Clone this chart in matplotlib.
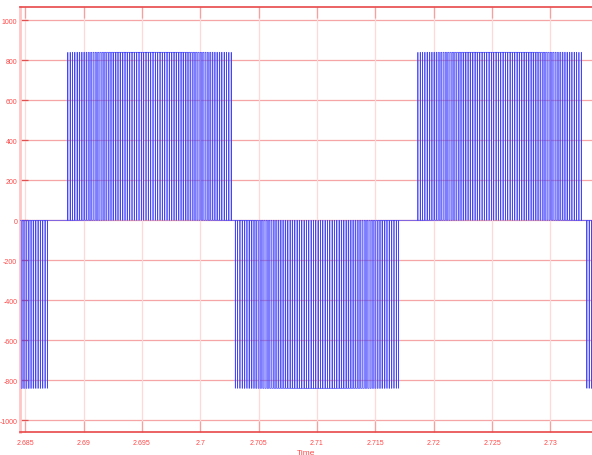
import matplotlib
matplotlib.use("Agg")
import matplotlib.pyplot as plt

# one carrier period between pulses (s) and pulse amplitude (V)
CARRIER_PERIOD = 0.0002
PULSE_AMPLITUDE = 840

# duty of each pulse across the first half of a half cycle,
# the second half mirrors it
PULSE_DUTY_RISING = [
    0.02, 0.06, 0.10, 0.14, 0.18, 0.22, 0.26, 0.29, 0.33, 0.37, 0.40, 0.44,
    0.47, 0.51, 0.54, 0.57, 0.60, 0.63, 0.66, 0.68, 0.71, 0.73, 0.76, 0.78,
    0.80, 0.81, 0.83, 0.84, 0.86, 0.87, 0.88, 0.89, 0.89, 0.90, 0.90,
]
PULSE_DUTY_PEAK = 0.90
PULSE_DUTY = PULSE_DUTY_RISING + [PULSE_DUTY_PEAK] + PULSE_DUTY_RISING[::-1]

# start time and polarity of each half cycle
HALF_CYCLE_STARTS = [2.6728, 2.68855, 2.70290, 2.71855, 2.73303]
HALF_CYCLE_SIGNS = [-1, 1, -1, 1, -1]

X_LIMITS = (2.68455, 2.73357)
Y_LIMITS = (-1060, 1065)
X_TICKS = [2.685, 2.69, 2.695, 2.7, 2.705, 2.71, 2.715, 2.72, 2.725, 2.73]
X_TICK_LABELS = ["2.685", "2.69", "2.695", "2.7", "2.705", "2.71", "2.715",
                 "2.72", "2.725", "2.73"]
Y_TICKS = [1000, 800, 600, 400, 200, 0, -200, -400, -600, -800, -1000]

RED = "#ff4848"


def build_waveform():
    times = [X_LIMITS[0]]
    values = [0]
    for start, sign in zip(HALF_CYCLE_STARTS, HALF_CYCLE_SIGNS):
        for k, duty in enumerate(PULSE_DUTY):
            centre = start + (k + 0.5) * CARRIER_PERIOD
            half_width = duty * CARRIER_PERIOD / 2
            t_on = centre - half_width
            t_off = centre + half_width
            if t_off < X_LIMITS[0] or t_on > X_LIMITS[1]:
                continue
            times += [t_on, t_on, t_off, t_off]
            values += [0, sign * PULSE_AMPLITUDE, sign * PULSE_AMPLITUDE, 0]
    times.append(X_LIMITS[1])
    values.append(0)
    return times, values


def main():
    plt.rcParams["font.family"] = ["Liberation Sans Narrow", "Liberation Sans", "DejaVu Sans"]
    plt.rcParams["axes.unicode_minus"] = False
    plt.rcParams["path.simplify"] = False

    fig = plt.figure(figsize=(5.92, 4.56), dpi=100)
    ax = fig.add_axes([20 / 592, 1 - 433.3 / 456, 572 / 592, 425 / 456])

    times, values = build_waveform()
    ax.plot(times, values, color="#4444ff", linewidth=0.5, snap=False, zorder=3)

    ax.set_xlim(*X_LIMITS)
    ax.set_ylim(*Y_LIMITS)
    ax.set_xticks(X_TICKS)
    ax.set_xticklabels(X_TICK_LABELS)
    ax.set_yticks(Y_TICKS)
    ax.set_yticklabels([str(v) for v in Y_TICKS])

    for v in Y_TICKS:
        ax.axhline(v, color="#f5a5a5", linewidth=0.9, zorder=1)
    for t in X_TICKS:
        ax.axvline(t, color="#ffd8d8", linewidth=0.9, zorder=1)

    ax.tick_params(axis="x", direction="in", length=8, width=0.9, color="#f7a0a0",
                   labelcolor=RED, labelsize=5.0, pad=5, top=True)
    ax.tick_params(axis="y", direction="in", length=6, width=0.9, color="#e05050",
                   labelcolor=RED, labelsize=5.0, pad=2)

    ax.spines["top"].set_color("#e84848")
    ax.spines["top"].set_linewidth(1.2)
    ax.spines["bottom"].set_color("#e84848")
    ax.spines["bottom"].set_linewidth(1.2)
    ax.spines["left"].set_color("#ffc4c4")
    ax.spines["left"].set_linewidth(2)
    ax.spines["right"].set_visible(False)

    ax.set_xlabel("Time", color=RED, fontsize=6, labelpad=2)

    fig.savefig("out.png", dpi=100)
    plt.close(fig)


if __name__ == "__main__":
    main()
